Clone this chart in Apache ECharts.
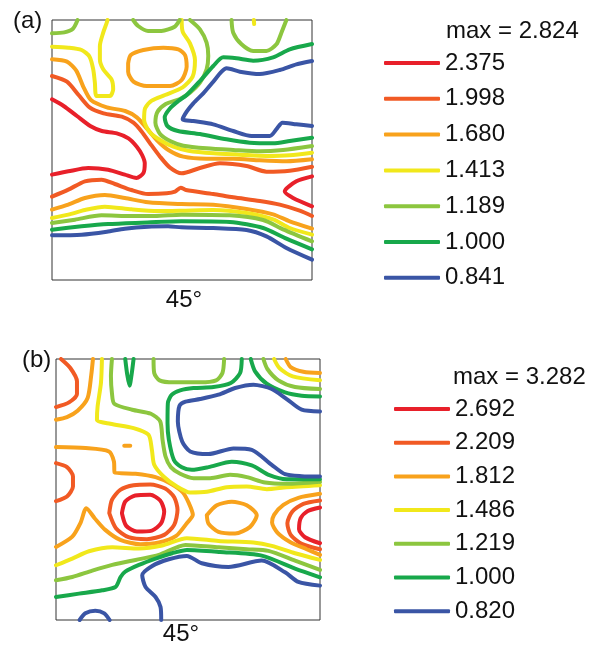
<!DOCTYPE html>
<html><head><meta charset="utf-8">
<script src="https://cdn.jsdelivr.net/npm/echarts@6/dist/echarts.min.js"></script>
<style>html,body{margin:0;padding:0;background:#fff}#c{width:609px;height:653px}</style>
</head><body><div id="c"></div>
<script>
// ---------- DATA ----------
const levelsA = ['2.375','1.998','1.680','1.413','1.189','1.000','0.841'];
const levelsB = ['2.692','2.209','1.812','1.486','1.219','1.000','0.820'];
const maxLabelA = 'max = 2.824';
const maxLabelB = 'max = 3.282';
const panelLabels = ['(a)', '(b)'];
const angleLabel = '45°';

// Panel (a) contour polylines (pole-figure units, x 155..937, y 60..840 top-down)
const aRedUpper      = [[155,298],[190,318],[230,348],[270,378],[305,393],[350,400],[385,415],[410,440],[426,465],[434,490],[430,519],[409,534],[374,524],[324,509],[264,504],[204,514],[155,524]];
const aRedRight      = [[937,529],[890,544],[855,574],[880,594],[937,619]];
const aRedOrUpper    = [[155,228],[200,245],[235,285],[268,322],[310,340],[365,350],[400,368],[425,395],[450,430],[480,470],[510,503],[545,520],[600,504],[660,490],[740,498],[800,515],[870,512],[937,500]];
const aRedOrLower    = [[155,590],[204,569],[254,544],[304,539],[344,552],[394,570],[444,582],[500,580],[525,575],[542,563],[558,570],[640,582],[700,592],[780,603],[840,614],[900,632],[937,648]];
const aOrangeUpper   = [[155,178],[200,185],[228,212],[250,262],[272,300],[320,322],[375,333],[410,352],[440,385],[470,420],[505,450],[550,470],[620,476],[700,476],[780,481],[860,484],[937,478]];
const aOrangeLoop    = [[384,190],[392,165],[430,150],[490,143],[535,148],[555,165],[560,200],[545,240],[510,258],[440,258],[400,245],[384,215],[384,190]];
const aOrangeLower   = [[155,629],[204,614],[254,594],[314,585],[374,594],[444,607],[544,612],[640,614],[740,627],[820,643],[870,664],[937,686]];
const aYellowLeft    = [[155,140],[204,143],[244,150],[268,170],[279,208],[284,248],[289,288],[329,288],[339,268],[334,238],[309,208],[299,178],[299,138],[309,98],[319,70],[322,60]];
const aYellowBand    = [[545,60],[548,95],[570,130],[585,180],[578,230],[548,262],[495,285],[455,302],[435,325],[432,360],[448,395],[480,420],[520,440],[565,452],[640,460],[720,464],[800,468],[870,466],[937,458]];
const aYellowTop     = [[762,60],[763,72]];
const aYellowLower   = [[155,654],[204,644],[254,630],[314,620],[394,628],[474,633],[544,632],[640,630],[740,639],[820,658],[870,684],[937,704]];
const aLGreenCorner  = [[155,100],[192,97],[218,86],[232,60]];
const aLGreenDome1   = [[399,60],[414,78],[444,93],[484,93],[524,80],[539,60]];
const aLGreenDome2   = [[695,60],[700,98],[725,133],[760,153],[800,153],[830,133],[845,98],[860,60]];
const aLGreenBand    = [[570,60],[600,88],[620,128],[625,168],[620,208],[600,248],[570,278],[540,297],[497,312],[472,336],[466,368],[480,402],[512,424],[550,437],[620,445],[700,450],[780,454],[850,450],[937,438]];
const aLGreenLower   = [[155,669],[224,659],[304,646],[394,648],[464,648],[544,644],[690,646],[790,660],[850,688],[937,724]];
const aGreenBand     = [[937,132],[870,148],[820,172],[760,182],[710,175],[670,172],[640,198],[600,243],[560,285],[535,303],[509,326],[494,352],[502,378],[534,393],[600,402],[680,418],[750,428],[820,430],[870,423],[937,413]];
const aGreenLower    = [[155,689],[244,679],[324,672],[424,668],[544,664],[690,666],[790,684],[860,716],[937,748]];
const aBlueBand      = [[937,183],[890,193],[840,210],[780,222],[720,215],[680,205],[665,215],[640,245],[610,280],[580,310],[560,335],[548,358],[580,363],[640,373],[700,393],[755,408],[810,408],[832,385],[848,368],[890,373],[937,378]];
const aBlueLower     = [[155,706],[244,704],[320,695],[374,686],[444,680],[504,679],[544,682],[640,684],[740,690],[800,709],[860,744],[937,779]];

// Panel (b) contour polylines (x 167..960, y 58..840 top-down)
const bRedLoop       = [[365,520],[375,485],[405,467],[450,465],[480,482],[492,515],[483,550],[455,572],[410,575],[378,558],[365,520]];
const bRedRight      = [[960,503],[922,514],[902,535],[897,568],[915,592],[960,610]];
const bRedOrTopLeft  = [[182,58],[210,85],[230,125],[230,163],[206,188],[167,202]];
const bRedOrLeft     = [[167,370],[200,382],[218,410],[218,440],[200,470],[167,484]];
const bRedOrLoop     = [[327,520],[335,480],[360,450],[400,436],[450,434],[495,446],[522,472],[532,510],[522,555],[492,585],[440,598],[385,592],[347,565],[327,520]];
const bRedOrRight    = [[960,482],[910,492],[877,515],[862,550],[872,585],[905,612],[960,628]];
const bOrangeTopLeft = [[278,58],[273,105],[262,175],[232,213],[200,232],[167,240]];
const bOrangeMain    = [[167,322],[256,325],[326,335],[341,365],[343,398],[406,402],[466,412],[512,432],[548,458],[566,490],[578,525],[560,550],[528,588],[476,608],[420,613],[360,600],[315,570],[283,535],[258,505],[241,548],[216,590],[167,621]];
const bOrangeDot     = [[372,318],[390,318]];
const bOrangeMid     = [[620,526],[650,496],[695,486],[740,496],[770,526],[750,561],[705,581],[655,576],[625,551],[620,526]];
const bOrangeRight   = [[960,462],[895,474],[850,495],[822,525],[816,548],[832,578],[870,606],[920,628],[960,645]];
const bOrangeTopRt   = [[857,58],[872,82],[910,96],[960,100]];
const bYellowMain    = [[305,58],[302,130],[292,200],[290,240],[330,252],[400,265],[445,285],[455,330],[462,375],[490,410],[530,440],[570,458],[620,456],[680,442],[740,440],[800,448],[860,442],[960,436]];
const bYellowLower   = [[167,676],[216,656],[266,634],[336,622],[416,626],[486,617],[560,595],[655,603],[760,608],[815,618],[885,640],[960,660]];
const bYellowTopRt   = [[822,58],[838,85],[878,110],[960,122]];
const bLGreenMain    = [[335,58],[332,110],[335,160],[342,192],[396,210],[452,222],[480,245],[487,300],[496,350],[512,382],[540,402],[580,415],[630,415],[690,405],[740,412],[795,428],[860,432],[960,426]];
const bLGreenArch    = [[460,58],[462,100],[478,122],[520,128],[600,128],[648,122],[667,100],[672,58]];
const bLGreenLower   = [[167,721],[216,711],[276,692],[336,675],[406,660],[476,645],[556,615],[655,622],[740,628],[805,633],[885,662],[960,690]];
const bLGreenTopRt   = [[790,58],[802,88],[835,122],[885,142],[960,148]];
const bGreenSpike    = [[375,58],[381,105],[388,138],[394,105],[400,58]];
const bGreenMain     = [[725,58],[720,100],[692,130],[640,142],[580,145],[540,152],[515,165],[503,190],[502,250],[506,300],[521,360],[545,382],[575,390],[625,382],[695,366],[755,377],[808,406],[860,418],[960,418]];
const bGreenLower    = [[167,771],[236,761],[306,751],[346,741],[361,711],[375,695],[416,675],[466,656],[516,640],[560,630],[660,636],[785,647],[885,686],[960,712]];
const bGreenTopRt    = [[752,58],[765,95],[800,132],[855,158],[905,168],[960,170]];
const bBlueMain      = [[960,215],[905,210],[860,178],[815,148],[760,135],[705,145],[655,165],[600,178],[556,186],[538,198],[533,245],[546,305],[570,335],[625,343],[700,326],[755,330],[815,375],[855,403],[905,409],[960,410]];
const bBlueLower     = [[483,840],[481,801],[466,771],[436,741],[426,706],[456,678],[506,658],[560,648],[605,670],[685,681],[785,662],[855,697],[895,726],[960,737]];
const bBlueSmall     = [[238,840],[255,820],[285,812],[312,820],[328,840]];

// contour -> level index (0 = highest level)
const contoursA = [
  [aRedUpper,0],[aRedRight,0],
  [aRedOrUpper,1],[aRedOrLower,1],
  [aOrangeUpper,2],[aOrangeLoop,2],[aOrangeLower,2],
  [aYellowLeft,3],[aYellowBand,3],[aYellowTop,3],[aYellowLower,3],
  [aLGreenCorner,4],[aLGreenDome1,4],[aLGreenDome2,4],[aLGreenBand,4],[aLGreenLower,4],
  [aGreenBand,5],[aGreenLower,5],
  [aBlueBand,6],[aBlueLower,6]
];
const contoursB = [
  [bRedLoop,0],[bRedRight,0],
  [bRedOrTopLeft,1],[bRedOrLeft,1],[bRedOrLoop,1],[bRedOrRight,1],
  [bOrangeTopLeft,2],[bOrangeMain,2],[bOrangeDot,2],[bOrangeMid,2],[bOrangeRight,2],[bOrangeTopRt,2],
  [bYellowMain,3],[bYellowLower,3],[bYellowTopRt,3],
  [bLGreenMain,4],[bLGreenArch,4],[bLGreenLower,4],[bLGreenTopRt,4],
  [bGreenSpike,5],[bGreenMain,5],[bGreenLower,5],[bGreenTopRt,5],
  [bBlueMain,6],[bBlueLower,6],[bBlueSmall,6]
];

// ---------- STYLE ----------
const levelColors = ['#e8202a','#f15a24','#f8a21c','#f1e81b','#8cc63f','#18a84b','#3a55a5'];
const FONT = '"Liberation Sans", Arial, Helvetica, sans-serif';

function mkSeries(list, levels, idx) {
  return list.map(([pts, lv]) => ({
    type: 'line', name: levels[lv], xAxisIndex: idx, yAxisIndex: idx,
    data: pts, symbol: 'none', smooth: 0.25, silent: true, clip: true,
    color: levelColors[lv],
    lineStyle: { width: 4, color: levelColors[lv], cap: 'round', join: 'round' },
    z: 3
  }));
}

const chart = echarts.init(document.getElementById('c'), null, { renderer: 'canvas' });
const legendBase = {
  orient: 'vertical', icon: 'roundRect', itemWidth: 56, itemHeight: 4, padding: 0,
  selectedMode: false, textStyle: { fontSize: 24, lineHeight: 24, fontFamily: FONT, color: '#111' }
};
chart.setOption({
  animation: false,
  backgroundColor: '#fff',
  grid: [
    { left: 52, top: 20, width: 260, height: 260, show: true, borderColor: '#333', borderWidth: 1, backgroundColor: 'transparent' },
    { left: 56, top: 359, width: 264, height: 261, show: true, borderColor: '#333', borderWidth: 1, backgroundColor: 'transparent' }
  ],
  xAxis: [
    { type: 'value', gridIndex: 0, min: 155, max: 937, show: false },
    { type: 'value', gridIndex: 1, min: 167, max: 960, show: false }
  ],
  yAxis: [
    { type: 'value', gridIndex: 0, min: 60, max: 840, inverse: true, show: false },
    { type: 'value', gridIndex: 1, min: 58, max: 840, inverse: true, show: false }
  ],
  legend: [
    Object.assign({}, legendBase, { left: 384, top: 51, itemGap: 11.8, data: levelsA }),
    Object.assign({}, legendBase, { left: 394, top: 397, itemGap: 9.7, data: levelsB })
  ],
  graphic: [
    { type: 'text', left: 13, top: 9, style: { text: panelLabels[0], font: '24px ' + FONT, fill: '#111' } },
    { type: 'text', left: 22, top: 348, style: { text: panelLabels[1], font: '24px ' + FONT, fill: '#111' } },
    { type: 'text', x: 184, y: 300, style: { text: angleLabel, font: '24px ' + FONT, fill: '#111', textAlign: 'center', textVerticalAlign: 'middle' } },
    { type: 'text', x: 181, y: 634, style: { text: angleLabel, font: '24px ' + FONT, fill: '#111', textAlign: 'center', textVerticalAlign: 'middle' } },
    { type: 'text', x: 446, y: 31, style: { text: maxLabelA, font: '24px ' + FONT, fill: '#111', textVerticalAlign: 'middle' } },
    { type: 'text', x: 453, y: 377, style: { text: maxLabelB, font: '24px ' + FONT, fill: '#111', textVerticalAlign: 'middle' } }
  ],
  series: mkSeries(contoursA, levelsA, 0).concat(mkSeries(contoursB, levelsB, 1))
});
</script>
</body></html>
